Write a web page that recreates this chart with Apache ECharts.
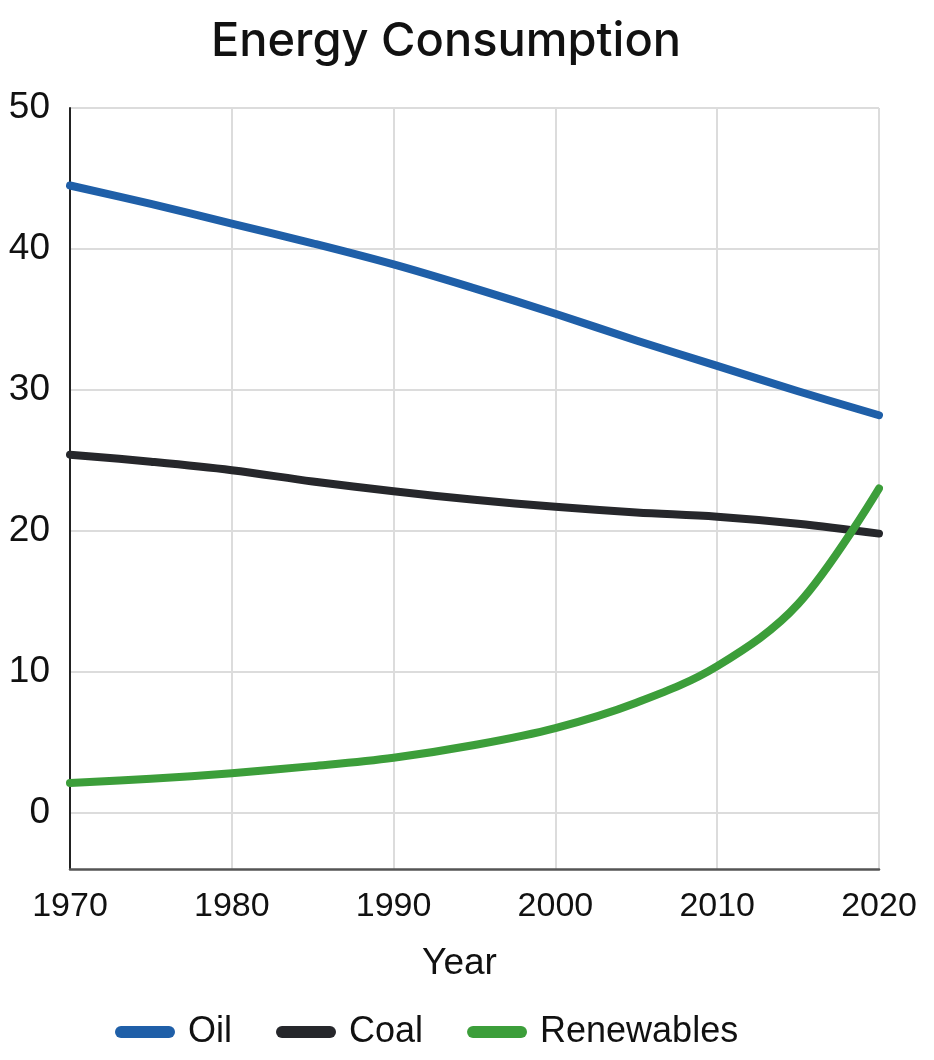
<!DOCTYPE html>
<html>
<head>
<meta charset="utf-8">
<script src="https://cdn.jsdelivr.net/npm/echarts@6/dist/echarts.min.js"></script>
<style>
  html, body { margin: 0; padding: 0; background: #ffffff; }
  #chart { width: 934px; height: 1060px; }
</style>
</head>
<body>
<div id="chart"></div>
<script>
const titleText = 'Energy Consumption';
const xAxisName = 'Year';
const seriesNames = ['Oil', 'Coal', 'Renewables'];
const years = [1970, 1975, 1980, 1985, 1990, 1995, 2000, 2005, 2010, 2015, 2020];
const oil = [44.5, 43.2, 41.8, 40.4, 38.9, 37.2, 35.4, 33.5, 31.7, 29.9, 28.2];
const coal = [25.4, 24.9, 24.3, 23.5, 22.8, 22.2, 21.7, 21.3, 21.0, 20.5, 19.8];
const renewables = [2.1, 2.4, 2.8, 3.3, 3.9, 4.8, 6.0, 7.8, 10.4, 14.8, 23.0];
const yTickLabels = [0, 10, 20, 30, 40, 50];

const colors = ['#1f5fa8', '#26272b', '#3c9e3a'];
const font = '"Liberation Sans", Arial, sans-serif';
const pill = 'path://M6,0 L54,0 A6,6 0 0 1 54,12 L6,12 A6,6 0 0 1 6,0 Z';

function pairs(vals) { return years.map((y, i) => [y, vals[i]]); }
const allSeries = [oil, coal, renewables].map((vals, i) => ({
  name: seriesNames[i],
  type: 'line',
  data: pairs(vals),
  smooth: 0.35,
  showSymbol: false,
  symbol: 'none',
  lineStyle: { width: 8, color: colors[i], cap: 'round', join: 'round' },
  itemStyle: { color: colors[i] },
  z: i === 2 ? 4 : 3
}));

const chart = echarts.init(document.getElementById('chart'), null, { renderer: 'canvas' });
const clear = 'rgba(0,0,0,0)';
chart.setOption({
  animation: false,
  backgroundColor: '#ffffff',
  color: colors,
  title: {
    text: titleText,
    left: 441,
    textAlign: 'center',
    top: 13,
    textStyle: { fontFamily: 'Inter, ' + font, fontSize: 47, fontWeight: 500, color: '#111' }
  },
  legend: {
    left: 115,
    top: 1014,
    padding: 0,
    itemWidth: 60,
    itemHeight: 13,
    itemGap: 44,
    icon: pill,
    data: seriesNames,
    textStyle: { fontFamily: font, fontSize: 36, color: '#111', padding: [0, 0, 0, 8] }
  },
  grid: { left: 70, right: 55, top: 108, bottom: 191, containLabel: false },
  xAxis: {
    type: 'value',
    min: years[0],
    max: years[years.length - 1],
    interval: 10,
    name: xAxisName,
    nameLocation: 'middle',
    nameGap: 76,
    nameTextStyle: { fontFamily: font, fontSize: 37, color: '#111', padding: [0, 30, 0, 0] },
    axisLine: { show: true, onZero: false, lineStyle: { color: '#555', width: 2.5 } },
    axisTick: { show: false },
    axisLabel: { fontFamily: font, fontSize: 34, color: '#111', margin: 21, formatter: v => String(v) },
    splitLine: { show: true, lineStyle: { color: '#dcdcdc', width: 2 } }
  },
  yAxis: {
    type: 'value',
    min: -4,
    max: 50,
    interval: 2,
    axisLine: { show: true, onZero: false, lineStyle: { color: '#222', width: 2 } },
    axisTick: { show: false },
    axisLabel: {
      fontFamily: font, fontSize: 37, color: '#111', margin: 20,
      formatter: v => (yTickLabels.indexOf(v) >= 0 ? String(v) : '')
    },
    splitLine: { show: true, lineStyle: { color: [clear, clear, '#dcdcdc', clear, clear], width: 2 } }
  },
  series: allSeries
});
</script>
</body>
</html>
